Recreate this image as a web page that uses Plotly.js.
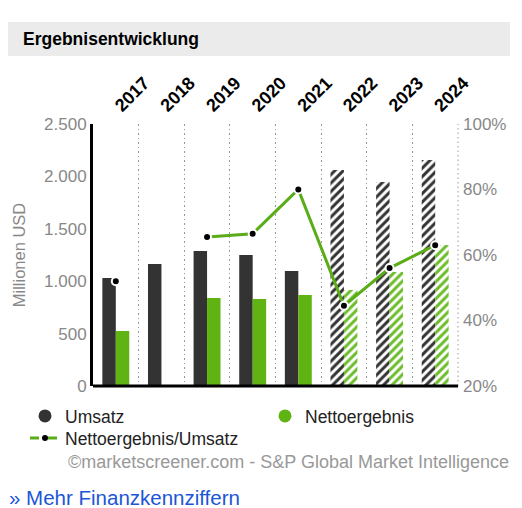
<!DOCTYPE html>
<html><head><meta charset="utf-8">
<script src="https://cdn.plot.ly/plotly-3.0.1.min.js"></script>
<style>html,body{margin:0;padding:0;background:#fff}#chart{width:522px;height:508px}</style>
</head><body><div id="chart"></div>
<script>
const years = ['2017','2018','2019','2020','2021','2022','2023','2024'];
const umsatz = [1030,1165,1288,1250,1097,2060,1946,2156];
const netto = [525,null,840,830,868,916,1088,1345];
const marge = [52,null,65.5,66.5,80,44.5,56,63];
const estimated = [false,false,false,false,false,true,true,true];
const yTicksLeft = [0,500,1000,1500,2000,2500];
const yTicksRight = [20,40,60,80,100];
const yTickTextRight = ['20%','40%','60%','80%','100%'];
const chartTitle = 'Ergebnisentwicklung';
const leftTitle = 'Millionen USD';
const seriesNames = ['Umsatz','Nettoergebnis','Nettoergebnis/Umsatz'];
const sourceText = '©marketscreener.com - S&P Global Market Intelligence';
const linkText = '» Mehr Finanzkennziffern';

const FONT = 'Liberation Sans, Arial, sans-serif';
const DARK = '#333333', GREEN = '#5fb312', LINEGREEN = '#5aad17';
const shapes = estimated.map(e => e ? '/' : '');

const traces = [
  {type:'bar', x:years, y:umsatz, name:seriesNames[0], showlegend:false, hoverinfo:'skip',
   marker:{color:DARK, pattern:{shape:shapes, fgcolor:DARK, bgcolor:'#ffffff', size:6, solidity:0.5, fillmode:'replace'}}},
  {type:'bar', x:years, y:netto, name:seriesNames[1], showlegend:false, hoverinfo:'skip',
   marker:{color:GREEN, pattern:{shape:shapes, fgcolor:'#6cbd2a', bgcolor:'#ffffff', size:6, solidity:0.5, fillmode:'replace'}}},
  {type:'scatter', mode:'lines+markers', x:years, y:marge, yaxis:'y2', showlegend:false, hoverinfo:'skip',
   line:{color:LINEGREEN, width:3}, marker:{color:'#000', size:8, line:{color:'#fff', width:2}}},
  {type:'scatter', mode:'markers', x:[null], y:[null], name:seriesNames[0], legend:'legend',
   marker:{color:DARK, size:13, symbol:'circle'}},
  {type:'scatter', mode:'markers', x:[null], y:[null], name:seriesNames[1], legend:'legend2',
   marker:{color:GREEN, size:13, symbol:'circle'}},
  {type:'scatter', mode:'lines+markers', x:[null], y:[null], name:seriesNames[2], legend:'legend3',
   line:{color:LINEGREEN, width:3, dash:'dash'}, marker:{color:'#000', size:6}}
];

const px = v => (v-93)/365, py = v => (386-v)/262;
const legendBase = {orientation:'h', xanchor:'left', yanchor:'top',
  font:{size:17.5, color:'#222', family:FONT}, bgcolor:'rgba(0,0,0,0)'};

const layout = {
  width:522, height:508, margin:{l:93, r:64, t:124, b:122, autoexpand:false},
  paper_bgcolor:'#fff', plot_bgcolor:'#fff', separators:',.',
  font:{family:FONT},
  barmode:'group', bargap:0.41, bargroupgap:0,
  showlegend:true,
  xaxis:{type:'category', side:'top', tickangle:-45, range:[-0.5,7.5], automargin:false,
    tickfont:{size:18, color:'#000', family:FONT, weight:'bold'}, ticklabelstandoff:4,
    showgrid:true, gridcolor:'#999999', griddash:'1.5px,3px', gridwidth:1, tickson:'boundaries',
    ticks:'', showline:false, zeroline:false, fixedrange:true},
  yaxis:{range:[0,2500], tickvals:yTicksLeft, tickformat:',d', showgrid:false, zeroline:false, automargin:false,
    showline:true, linewidth:3, linecolor:'#000', ticks:'',
    tickfont:{size:17, color:'#888', family:FONT},
    title:{text:leftTitle, font:{size:16.5, color:'#888', family:FONT}, standoff:15}},
  yaxis2:{overlaying:'y', side:'right', range:[20,100], tickvals:yTicksRight, ticktext:yTickTextRight,
    showgrid:false, zeroline:false, showline:false, ticks:'', ticklabelstandoff:4, automargin:false,
    tickfont:{size:17, color:'#888', family:FONT}},
  legend:Object.assign({}, legendBase, {x:px(25), y:py(398)}),
  legend2:Object.assign({}, legendBase, {x:px(265), y:py(398)}),
  legend3:Object.assign({}, legendBase, {x:px(25), y:py(420)}),
  shapes:[
    {type:'rect', xref:'paper', yref:'paper', x0:px(8), x1:px(510), y0:py(56), y1:py(22),
     fillcolor:'#ebebeb', line:{width:0}, layer:'below'},
    {type:'line', xref:'paper', yref:'paper', x0:1, x1:1, y0:0, y1:1, line:{color:'#999999', width:1, dash:'1.5px,3px'}},
    {type:'line', xref:'paper', yref:'paper', x0:0, x1:1, y0:0, y1:0, line:{color:'#000', width:3}}
  ],
  annotations:[
    {text:'<b>'+chartTitle+'</b>', xref:'paper', yref:'paper', x:px(21), y:py(39), xanchor:'left', yanchor:'middle',
     showarrow:false, font:{size:17.5, color:'#000', family:FONT}},
    {text:sourceText, xref:'paper', yref:'paper', x:px(511), y:py(462), xanchor:'right', yanchor:'middle',
     showarrow:false, font:{size:18, color:'#999', family:FONT}},
    {text:linkText, xref:'paper', yref:'paper', x:px(7), y:py(497), xanchor:'left', yanchor:'middle',
     showarrow:false, font:{size:20.5, color:'#1a56d6', family:FONT}}
  ]
};

Plotly.newPlot('chart', traces, layout, {displayModeBar:false, staticPlot:true});
</script></body></html>
